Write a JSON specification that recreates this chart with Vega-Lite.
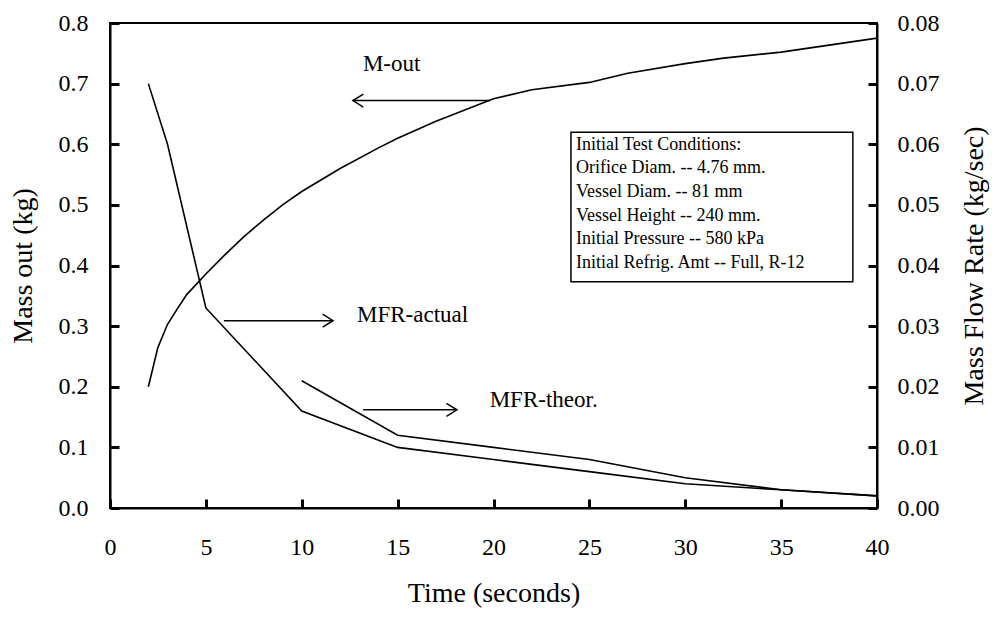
{
  "$schema": "https://vega.github.io/schema/vega-lite/v6.json",
  "width": 767,
  "height": 485,
  "autosize": {"type": "none"},
  "padding": {"left": 110, "top": 23, "right": 116, "bottom": 111},
  "background": "white",
  "config": {
    "view": {"stroke": "black", "strokeWidth": 2},
    "font": "Liberation Serif"
  },
  "datasets": {
    "mout": [
      {"t": 2, "v": 0.2}, {"t": 2.5, "v": 0.265}, {"t": 3, "v": 0.303}, {"t": 3.5, "v": 0.328},
      {"t": 4, "v": 0.352}, {"t": 5, "v": 0.386}, {"t": 6, "v": 0.418}, {"t": 7, "v": 0.448},
      {"t": 8, "v": 0.475}, {"t": 9, "v": 0.5}, {"t": 10, "v": 0.522}, {"t": 12, "v": 0.56},
      {"t": 14, "v": 0.594}, {"t": 15, "v": 0.61}, {"t": 17, "v": 0.638}, {"t": 20, "v": 0.675},
      {"t": 22, "v": 0.69}, {"t": 25, "v": 0.702}, {"t": 27, "v": 0.717}, {"t": 30, "v": 0.733},
      {"t": 32, "v": 0.742}, {"t": 35, "v": 0.752}, {"t": 40, "v": 0.775}
    ],
    "mfr": [
      {"series": "MFR-actual", "t": 2, "r": 0.070},
      {"series": "MFR-actual", "t": 3, "r": 0.060},
      {"series": "MFR-actual", "t": 5, "r": 0.033},
      {"series": "MFR-actual", "t": 10, "r": 0.016},
      {"series": "MFR-actual", "t": 15, "r": 0.010},
      {"series": "MFR-actual", "t": 20, "r": 0.008},
      {"series": "MFR-actual", "t": 25, "r": 0.006},
      {"series": "MFR-actual", "t": 30, "r": 0.004},
      {"series": "MFR-actual", "t": 35, "r": 0.003},
      {"series": "MFR-actual", "t": 40, "r": 0.002},
      {"series": "MFR-theor", "t": 10, "r": 0.021},
      {"series": "MFR-theor", "t": 15, "r": 0.012},
      {"series": "MFR-theor", "t": 20, "r": 0.010},
      {"series": "MFR-theor", "t": 25, "r": 0.008},
      {"series": "MFR-theor", "t": 30, "r": 0.005},
      {"series": "MFR-theor", "t": 35, "r": 0.003},
      {"series": "MFR-theor", "t": 40, "r": 0.002}
    ],
    "box": [{"t": 24.04, "t2": 38.74, "v": 0.373, "v2": 0.62}],
    "boxtext": [
      {"t": 24.3, "v": 0.599, "label": "Initial Test Conditions:"},
      {"t": 24.3, "v": 0.561, "label": "Orifice Diam. -- 4.76 mm."},
      {"t": 24.3, "v": 0.521, "label": "Vessel Diam. -- 81 mm"},
      {"t": 24.3, "v": 0.482, "label": "Vessel Height -- 240 mm."},
      {"t": 24.3, "v": 0.444, "label": "Initial Pressure -- 580 kPa"},
      {"t": 24.3, "v": 0.404, "label": "Initial Refrig. Amt -- Full, R-12"}
    ],
    "ann": [
      {"t": 13.19, "v": 0.733, "label": "M-out"},
      {"t": 12.88, "v": 0.318, "label": "MFR-actual"},
      {"t": 19.8, "v": 0.178, "label": "MFR-theor."}
    ],
    "arrows": [
      {"t": 19.8, "t2": 12.67, "v": 0.672},
      {"t": 5.94, "t2": 11.63, "v": 0.309},
      {"t": 13.19, "t2": 18.09, "v": 0.162}
    ],
    "headsLeft": [{"t": 12.67, "v": 0.672}],
    "headsRight": [{"t": 11.63, "v": 0.309}, {"t": 18.09, "v": 0.162}]
  },
  "encoding": {
    "x": {
      "field": "t",
      "type": "quantitative",
      "scale": {"domain": [0, 40]},
      "axis": {
        "title": "Time (seconds)",
        "tickCount": 8,
        "format": "d",
        "grid": false,
        "domainColor": "black",
        "domainWidth": 2,
        "tickColor": "black",
        "tickWidth": 3,
        "tickSize": -9,
        "labelFont": "Liberation Serif",
        "labelFontSize": 24,
        "labelColor": "black",
        "titleFont": "Liberation Serif",
        "titleFontSize": 28,
        "titleFontWeight": "normal",
        "titleColor": "black",
        "labelPadding": 36,
        "titlePadding": 20,
        "labelFlush": false
      }
    }
  },
  "layer": [
    {
      "encoding": {
        "y": {
          "field": "v",
          "type": "quantitative",
          "scale": {"domain": [0, 0.8]},
          "axis": {
            "title": "Mass out (kg)",
            "tickCount": 8,
            "format": ".1f",
            "grid": false,
            "domainColor": "black",
            "domainWidth": 2,
            "tickColor": "black",
            "tickWidth": 3,
            "tickSize": -9,
            "labelFont": "Liberation Serif",
            "labelFontSize": 24,
            "labelColor": "black",
            "titleFont": "Liberation Serif",
            "titleFontSize": 28,
            "titleFontWeight": "normal",
            "titleColor": "black",
            "labelPadding": 31,
            "titlePadding": 21,
            "labelFlush": false
          }
        }
      },
      "layer": [
        {
          "data": {"name": "mout"},
          "mark": {"type": "line", "color": "black", "strokeWidth": 1.6}
        },
        {
          "data": {"name": "box"},
          "mark": {"type": "rect", "fill": "white", "stroke": "black", "strokeWidth": 1.5},
          "encoding": {"x2": {"field": "t2"}, "y2": {"field": "v2"}}
        },
        {
          "data": {"name": "boxtext"},
          "mark": {"type": "text", "align": "left", "baseline": "middle", "fontSize": 18, "font": "Liberation Serif", "color": "black"},
          "encoding": {"text": {"field": "label"}}
        },
        {
          "data": {"name": "ann"},
          "mark": {"type": "text", "align": "left", "baseline": "middle", "fontSize": 23, "font": "Liberation Serif", "color": "black"},
          "encoding": {"text": {"field": "label"}}
        },
        {
          "data": {"name": "arrows"},
          "mark": {"type": "rule", "color": "black", "strokeWidth": 1.5},
          "encoding": {"x2": {"field": "t2"}}
        },
        {
          "data": {"name": "headsLeft"},
          "mark": {"type": "point", "shape": "M1.6,-1L0,0L1.6,1", "filled": false, "stroke": "black", "strokeWidth": 1.5, "size": 169, "opacity": 1}
        },
        {
          "data": {"name": "headsRight"},
          "mark": {"type": "point", "shape": "M-1.6,-1L0,0L-1.6,1", "filled": false, "stroke": "black", "strokeWidth": 1.5, "size": 169, "opacity": 1}
        }
      ]
    },
    {
      "data": {"name": "mfr"},
      "mark": {"type": "line", "color": "black", "strokeWidth": 1.6},
      "encoding": {
        "y": {
          "field": "r",
          "type": "quantitative",
          "scale": {"domain": [0, 0.08]},
          "axis": {
            "orient": "right",
            "title": "Mass Flow Rate (kg/sec)",
            "titleAngle": 270,
            "tickCount": 8,
            "format": ".2f",
            "grid": false,
            "domainColor": "black",
            "domainWidth": 2,
            "tickColor": "black",
            "tickWidth": 3,
            "tickSize": -9,
            "labelFont": "Liberation Serif",
            "labelFontSize": 24,
            "labelColor": "black",
            "titleFont": "Liberation Serif",
            "titleFontSize": 28,
            "titleFontWeight": "normal",
            "titleColor": "black",
            "labelPadding": 29,
            "titlePadding": 49,
            "labelFlush": false
          }
        },
        "detail": {"field": "series"}
      }
    }
  ],
  "resolve": {"scale": {"y": "independent"}}
}
